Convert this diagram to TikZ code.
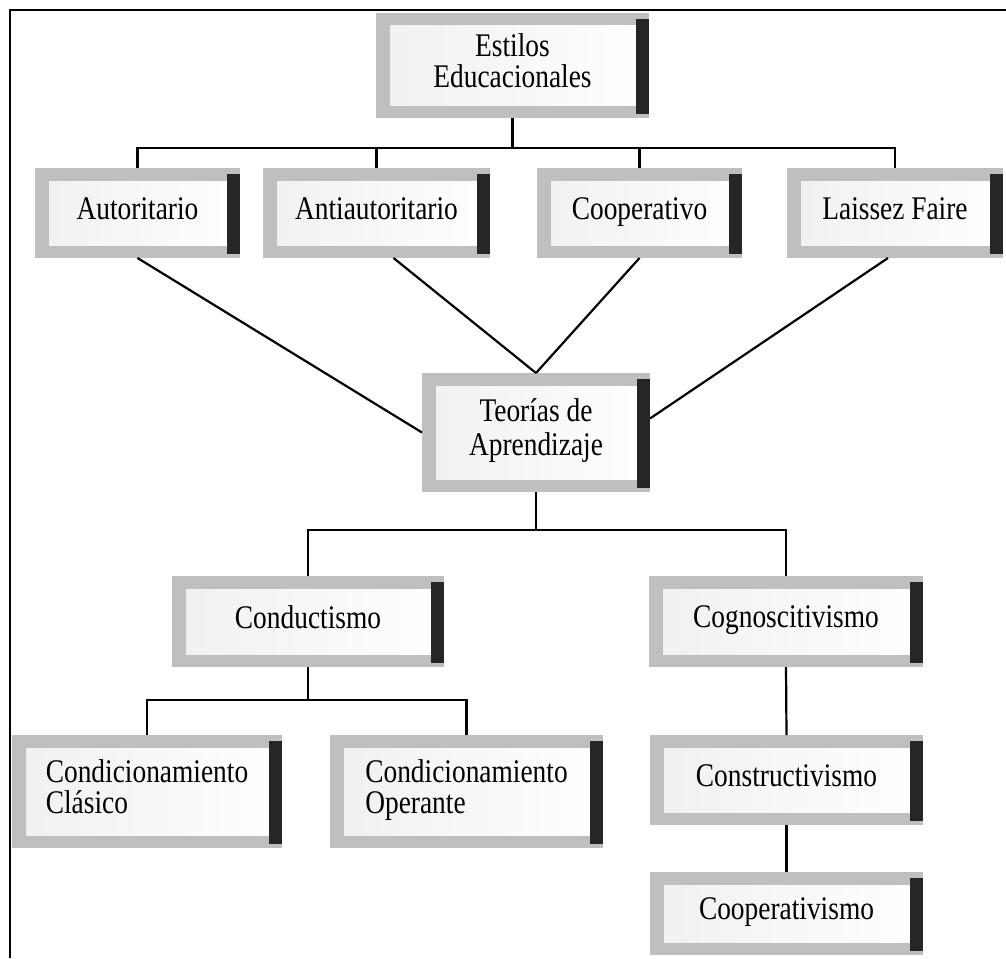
\documentclass[tikz,border=0pt]{standalone}
\usepackage{fontspec}
\setmainfont[FakeStretch=0.83]{Liberation Serif}
\begin{document}
\begin{tikzpicture}[x=1pt, y=-1pt,
  box/.style={fill=gray!50, inner sep=0pt, outer sep=0pt, align=center,
    font=\fontsize{33}{31}\selectfont,
    execute at begin node=\strut, execute at end node=\strut,
    path picture={
      \shade[left color=gray!12, right color=white]
        ([xshift=14pt,yshift=-13pt]path picture bounding box.north west)
        rectangle ([xshift=-13pt,yshift=13pt]path picture bounding box.south east);
      \fill[black!85] ([xshift=-13pt,yshift=-6pt]path picture bounding box.north east)
        rectangle ([yshift=4pt]path picture bounding box.south east);
    }},
  link/.style={line width=2.2pt}]
  \useasboundingbox (0,0) rectangle (1006,958);
  \draw[line width=2.4pt] (10,958) -- (10,10) -- (1006,10);
  \node[box, minimum width=273, minimum height=105] (est) at (512.5,65.5) {Estilos\\Educacionales};
  \node[box, minimum width=205, minimum height=90] (aut) at (137.5,213) {Autoritario};
  \node[box, minimum width=227, minimum height=90] (anti) at (376.5,213) {Antiautoritario};
  \node[box, minimum width=205, minimum height=90] (coop) at (639.5,213) {Cooperativo};
  \node[box, minimum width=216, minimum height=90] (lais) at (895,213) {Laissez Faire};
  \node[box, minimum width=228, minimum height=119, font=\fontsize{33}{34}\selectfont] (teo) at (536,432.5) {Teorías de\\Aprendizaje};
  \node[box, minimum width=272, minimum height=91] (cond) at (308,621.5) {Conductismo};
  \node[box, minimum width=274, minimum height=91] (cogn) at (786,621.5) {Cognoscitivismo};
  \node[box, minimum width=270, minimum height=113, align=left] (clas) at (147,791.5) {Condicionamiento\\Clásico};
  \node[box, minimum width=273, minimum height=113, align=left] (oper) at (466.5,791.5) {Condicionamiento\\Operante};
  \node[box, minimum width=273, minimum height=90] (cons) at (786.5,780) {Constructivismo};
  \node[box, minimum width=273, minimum height=83] (cper) at (786.5,913.5) {Cooperativismo};
  \coordinate (bus1) at (512.5,148);
  \coordinate (bus2) at (536,530);
  \coordinate (bus3) at (308,700);
  \draw[link] (est.south) -- (bus1);
  \foreach \n in {aut,anti,coop,lais}
    \draw[link] (bus1) -| (\n.north);
  \draw[link] (aut.south) -- (teo.west);
  \draw[link] ([xshift=17pt]anti.south) -- (teo.north);
  \draw[link] (coop.south) -- (teo.north);
  \draw[link] ([xshift=-7pt]lais.south) -- ([yshift=14pt]teo.east);
  \draw[link] (teo.south) -- (bus2);
  \draw[link] (bus2) -| (cond.north);
  \draw[link] (bus2) -| (cogn.north);
  \draw[link] (cond.south) -- (bus3);
  \draw[link] (bus3) -| (clas.north);
  \draw[link] (bus3) -| (oper.north);
  \draw[link] (cogn.south) -- (cons.north);
  \draw[link] (cons.south) -- (cper.north);
\end{tikzpicture}
\end{document}
